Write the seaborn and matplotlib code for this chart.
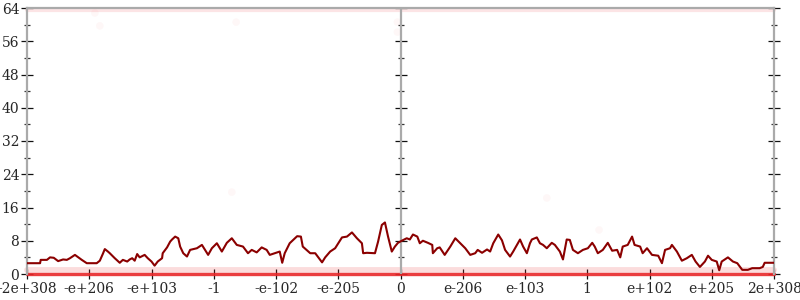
import numpy as np
import pandas as pd
import matplotlib
matplotlib.use("Agg")
import matplotlib.pyplot as plt
from matplotlib.ticker import MultipleLocator, FixedLocator
import seaborn as sns

# ---- data ----
tick_pos = [-6, -5, -4, -3, -2, -1, 0, 1, 2, 3, 4, 5, 6]
tick_labels = ["-2e+308", "-e+206", "-e+103", "-1", "-e-102", "-e-205", "0",
               "e-206", "e-103", "1", "e+102", "e+205", "2e+308"]

line_x = [-6.00, -5.79, -5.78, -5.68, -5.63, -5.57, -5.50, -5.42, -5.36, -5.31,
          -5.23, -5.12, -5.04, -4.88, -4.83, -4.78, -4.75, -4.70, -4.67, -4.59,
          -4.51, -4.46, -4.39, -4.35, -4.31, -4.27, -4.23, -4.19, -4.11, -4.06,
          -4.00, -3.95, -3.90, -3.83, -3.82, -3.75, -3.70, -3.67, -3.62, -3.57,
          -3.54, -3.49, -3.43, -3.38, -3.27, -3.19, -3.09, -3.03, -2.95, -2.87,
          -2.79, -2.71, -2.63, -2.53, -2.45, -2.39, -2.31, -2.23, -2.15, -2.10,
          -2.02, -1.94, -1.90, -1.86, -1.78, -1.66, -1.60, -1.57, -1.45, -1.37,
          -1.26, -1.21, -1.13, -1.05, -0.94, -0.86, -0.78, -0.70, -0.62, -0.60,
          -0.54, -0.41, -0.36, -0.30, -0.25, -0.20, -0.14, -0.09, -0.04, 0.02,
          0.10, 0.15, 0.20, 0.27, 0.31, 0.36, 0.44, 0.51, 0.52, 0.59,
          0.63, 0.71, 0.80, 0.88, 0.96, 1.04, 1.12, 1.20, 1.24, 1.31,
          1.39, 1.44, 1.49, 1.57, 1.63, 1.68, 1.76, 1.81, 1.92, 1.97,
          2.03, 2.08, 2.11, 2.19, 2.24, 2.29, 2.35, 2.43, 2.48, 2.56,
          2.61, 2.67, 2.72, 2.77, 2.85, 2.93, 3.01, 3.08, 3.12, 3.17,
          3.25, 3.33, 3.40, 3.48, 3.53, 3.57, 3.65, 3.72, 3.76, 3.85,
          3.89, 3.96, 4.04, 4.14, 4.20, 4.25, 4.33, 4.36, 4.44, 4.52,
          4.60, 4.68, 4.74, 4.81, 4.89, 4.94, 5.00, 5.08, 5.12, 5.16,
          5.26, 5.34, 5.41, 5.49, 5.58, 5.65, 5.69, 5.77, 5.82, 5.85,
          6.00]
line_y = [2.6, 2.6, 3.4, 3.4, 4.0, 3.9, 3.1, 3.5, 3.4, 3.8,
          4.6, 3.4, 2.6, 2.6, 3.2, 4.9, 6.0, 5.4, 5.0, 3.8,
          2.7, 3.4, 3.0, 3.5, 3.8, 3.2, 4.8, 4.0, 4.6, 3.8,
          3.0, 2.0, 3.0, 3.8, 5.0, 6.4, 7.8, 8.3, 9.0, 8.6,
          6.6, 5.0, 4.2, 5.8, 6.2, 7.0, 4.6, 6.2, 7.4, 5.4,
          7.5, 8.6, 7.0, 6.6, 5.0, 5.8, 5.2, 6.4, 5.8, 4.6,
          5.0, 5.4, 2.7, 5.0, 7.4, 9.1, 9.0, 6.6, 5.0, 5.0,
          2.8, 4.0, 5.4, 6.2, 8.8, 9.0, 10.0, 8.6, 7.4, 5.0,
          5.1, 5.0, 7.8, 11.8, 12.4, 9.0, 5.4, 6.6, 7.5, 8.0,
          8.6, 8.3, 9.5, 9.0, 7.4, 8.0, 7.5, 7.0, 5.0, 6.2,
          6.4, 4.6, 6.6, 8.6, 7.4, 6.2, 4.6, 5.0, 5.8, 5.1,
          5.9, 5.4, 7.4, 9.5, 8.1, 5.8, 4.2, 5.4, 8.3, 6.6,
          5.0, 7.4, 8.3, 8.8, 7.4, 7.0, 6.2, 7.5, 7.0, 5.4,
          3.5, 8.3, 8.2, 5.8, 5.0, 5.8, 6.2, 7.5, 6.6, 5.0,
          5.8, 7.5, 5.6, 5.8, 4.0, 6.6, 7.0, 9.0, 7.0, 6.6,
          5.0, 6.2, 4.6, 4.4, 2.6, 5.8, 6.2, 7.0, 5.4, 3.2,
          3.8, 4.6, 3.0, 1.7, 3.0, 4.4, 3.4, 3.0, 0.9, 3.0,
          4.0, 3.0, 2.6, 1.0, 1.0, 1.4, 1.4, 1.4, 1.7, 2.7,
          2.7]

# sample bands (dense rows of samples) and a few isolated samples
band_x = [-6, 6]
band_levels = [0.0, 0.9, 63.6]
outlier_x = [-4.91, -4.83, -2.64, -2.71, 2.35, 3.19, -0.05, -0.05]
outlier_y = [62.8, 59.7, 60.6, 19.7, 18.3, 10.6, 60.6, 58.2]

# ---- style ----
sns.set_style("white")
plt.rcParams["font.family"] = ["DejaVu Serif"]
plt.rcParams["font.size"] = 10

fig = plt.figure(figsize=(8, 3), dpi=100)
ax = fig.add_axes([27 / 800, 26 / 300, 747 / 800, 266 / 300])

red = "#e8282a"
gray = "#aaaaaa"

# bands
band_styles = [dict(color=red, lw=2.4, alpha=0.9),
               dict(color=red, lw=4.2, alpha=0.16),
               dict(color=red, lw=3.0, alpha=0.12)]
for lvl, st in zip(band_levels, band_styles):
    df = pd.DataFrame({"x": band_x, "y": [lvl, lvl]})
    sns.lineplot(data=df, x="x", y="y", ax=ax, color=st["color"],
                 linewidth=st["lw"], alpha=st["alpha"], clip_on=False,
                 zorder=1)

sns.scatterplot(x=outlier_x, y=outlier_y, ax=ax, color=red, alpha=0.035,
                s=30, edgecolor="none", zorder=1)

ax.axvline(0, color=gray, lw=1.6, zorder=2)

sns.lineplot(x=line_x, y=line_y, ax=ax, color="#8b0000", linewidth=1.5,
             zorder=4, estimator=None, sort=False)

ax.set_xlim(-6, 6)
ax.set_ylim(0, 64)
ax.set_xlabel("")
ax.set_ylabel("")

for s in ax.spines.values():
    s.set_color(gray)
    s.set_linewidth(1.6)
    s.set_zorder(2)
ax.spines["bottom"].set_alpha(0.0)

ax.xaxis.set_major_locator(FixedLocator(tick_pos))
ax.set_xticklabels(tick_labels)
ax.yaxis.set_major_locator(MultipleLocator(8))
ax.yaxis.set_minor_locator(MultipleLocator(4))

ax.tick_params(axis="x", which="major", direction="inout", length=7.5,
               width=0.9, color="#111111", pad=2, labelsize=10, bottom=True)
ax.tick_params(axis="y", which="major", direction="inout", length=9,
               width=0.9, color="#111111", pad=1, labelsize=10,
               left=True, right=True)
ax.tick_params(axis="y", which="minor", direction="inout", length=4.5,
               width=0.9, color="#333333", left=True, right=True)

mid = ax.secondary_yaxis(0.5)
mid.yaxis.set_major_locator(MultipleLocator(8))
mid.yaxis.set_minor_locator(MultipleLocator(4))
mid.tick_params(axis="y", which="major", direction="inout", length=9,
                width=0.9, color="#111111", labelleft=False, labelright=False)
mid.tick_params(axis="y", which="minor", direction="inout", length=4.5,
                width=0.9, color="#333333")
for s in mid.spines.values():
    s.set_visible(False)

fig.savefig("out.png", dpi=100)
